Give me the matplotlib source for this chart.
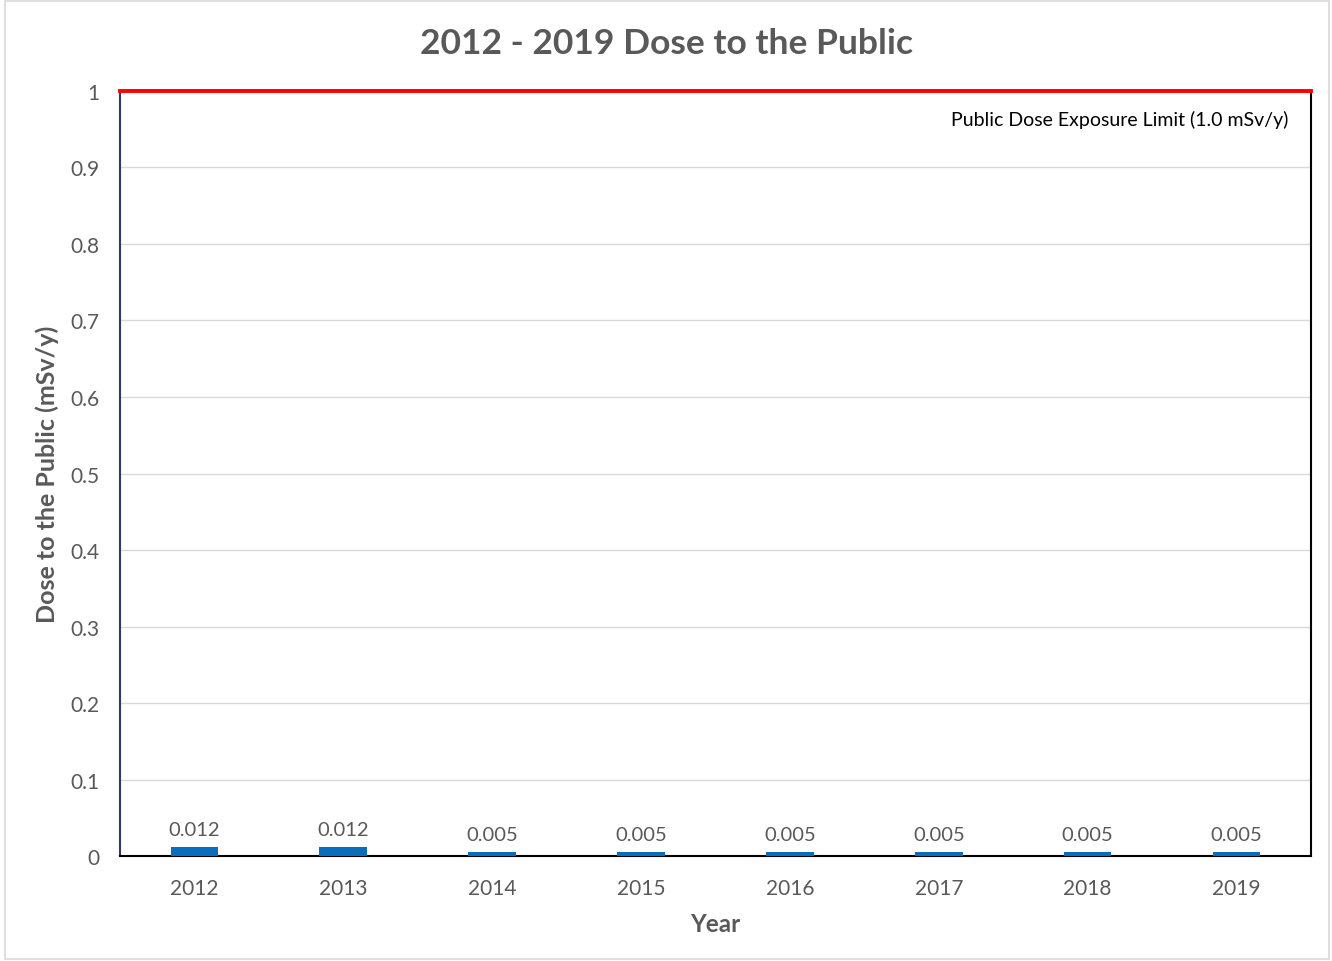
import matplotlib.pyplot as plt
import matplotlib.patches as mpatches

years = ["2012", "2013", "2014", "2015", "2016", "2017", "2018", "2019"]
dose = [0.012, 0.012, 0.005, 0.005, 0.005, 0.005, 0.005, 0.005]
dose_limit = 1.0
y_ticks = [0, 0.1, 0.2, 0.3, 0.4, 0.5, 0.6, 0.7, 0.8, 0.9, 1]
y_tick_labels = ["0", "0.1", "0.2", "0.3", "0.4", "0.5", "0.6", "0.7", "0.8", "0.9", "1"]

grey = "#595959"
plt.rcParams['font.family'] = ['Lato', 'DejaVu Sans']

fig = plt.figure(figsize=(13.32, 9.62), dpi=100)
ax = fig.add_axes([0.0901, 0.1091, 0.8941, 0.7953])

# light frame around the whole chart
fig.patches.append(mpatches.Rectangle((0.004, 0.002), 0.994, 0.996, transform=fig.transFigure,
                                      fill=False, edgecolor="#d9d9d9", linewidth=1.2))

x = range(len(years))
bars = ax.bar(x, dose, width=0.32, color="#0a6ebd", zorder=3)
for xi, v in zip(x, dose):
    ax.text(xi, v + 0.012, f"{v:.3f}", ha="center", va="bottom", fontsize=14.5, color=grey)

ax.axhline(dose_limit, color="#ff0000", linewidth=2.8, zorder=5, clip_on=False)
ax.text(len(years) - 0.65, 0.964, "Public Dose Exposure Limit (1.0 mSv/y)",
        ha="right", va="center", fontsize=14, color="black")

ax.set_xlim(-0.5, len(years) - 0.5)
ax.set_ylim(0, 1)
ax.set_xticks(list(x))
ax.set_xticklabels(years)
ax.set_yticks(y_ticks)
ax.set_yticklabels(y_tick_labels)
ax.tick_params(axis="both", length=0, labelsize=15, colors=grey)
ax.tick_params(axis="x", pad=16)
ax.tick_params(axis="y", pad=15)
ax.grid(axis="y", color="#d9d9d9", linewidth=1, zorder=0)

ax.spines["left"].set_color("#2f3a6b")
ax.spines["bottom"].set_color("black")
ax.spines["right"].set_color("black")
ax.spines["top"].set_color("#333333")
for s in ax.spines.values():
    s.set_linewidth(1.5)

ax.set_xlabel("Year", fontsize=17.5, fontweight="bold", color=grey, labelpad=10)
ax.set_ylabel("Dose to the Public (mSv/y)", fontsize=18, fontweight="bold", color=grey, labelpad=8)
fig.suptitle("2012 - 2019 Dose to the Public", fontsize=25.5, fontweight="bold", color=grey,
             y=0.954, va="center")

fig.savefig("out.png", dpi=100)
